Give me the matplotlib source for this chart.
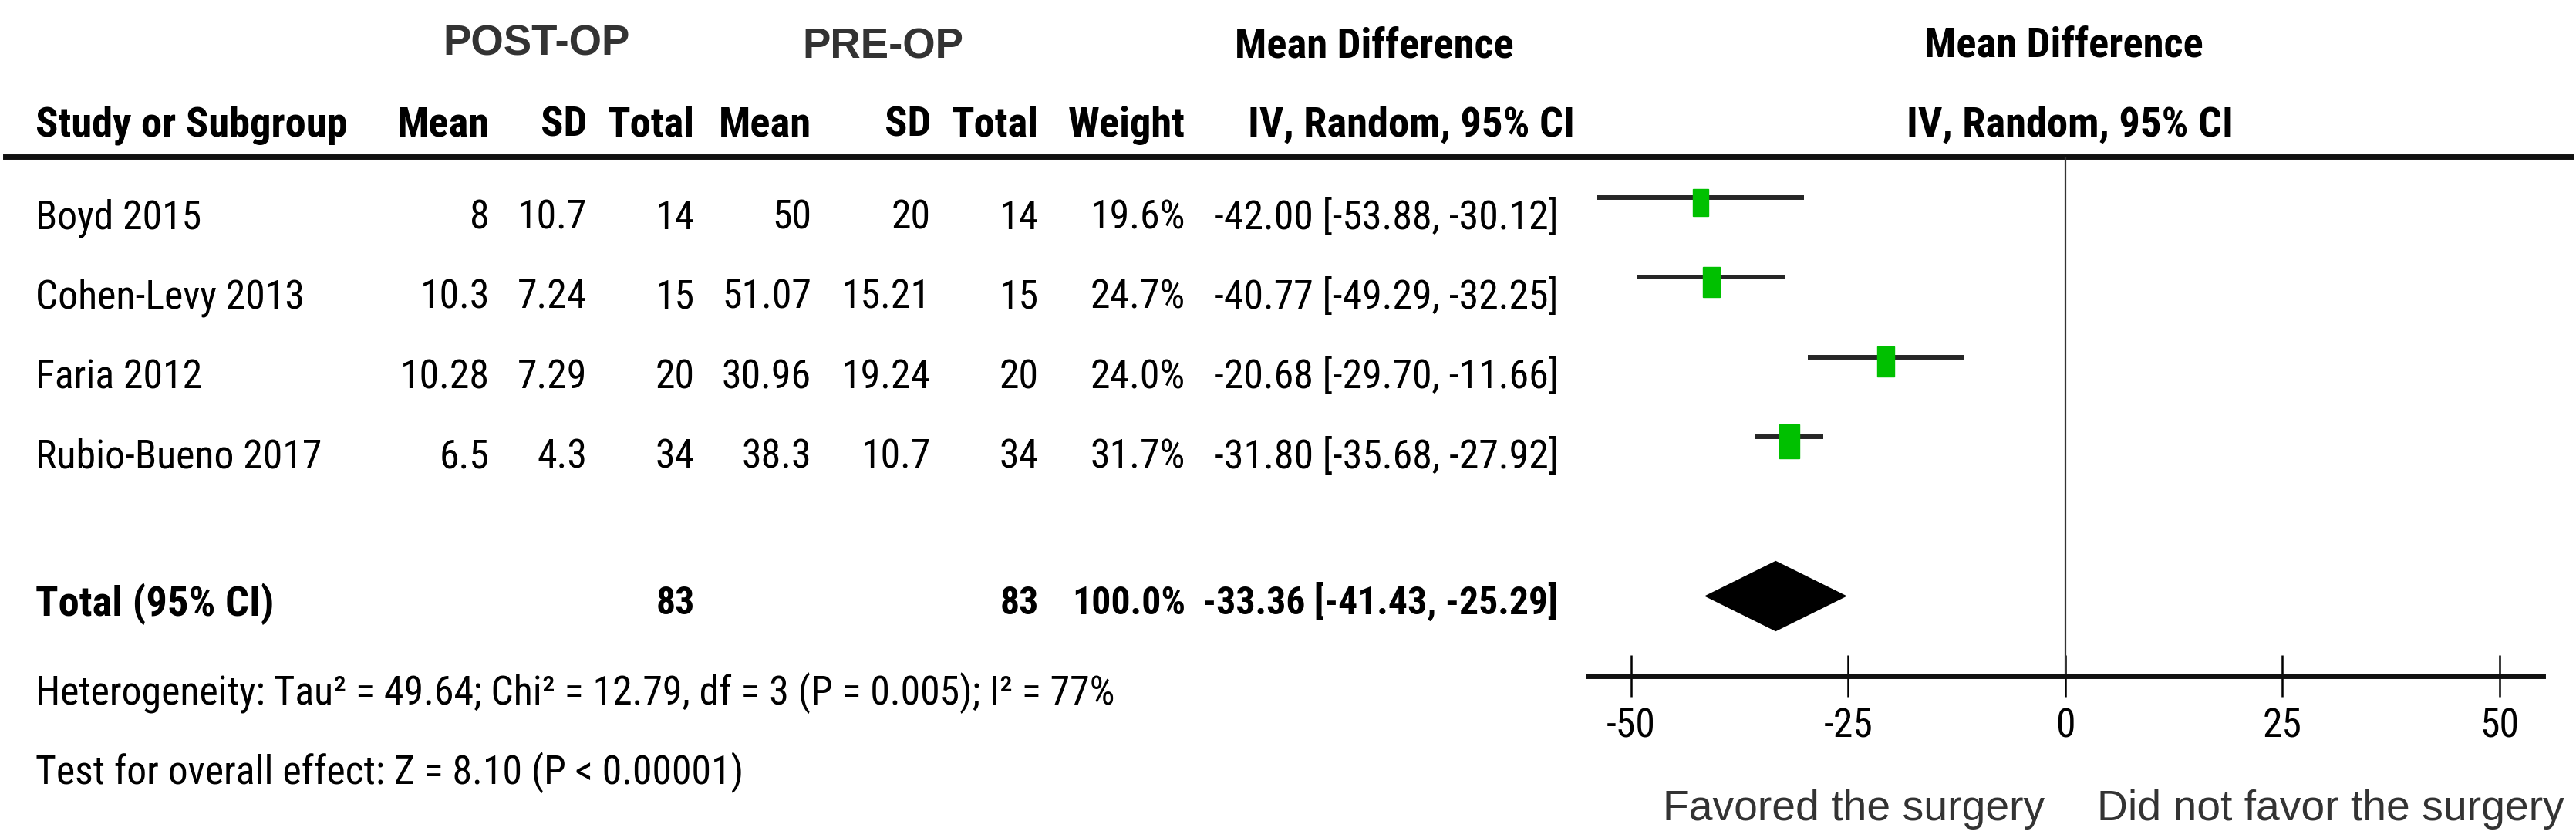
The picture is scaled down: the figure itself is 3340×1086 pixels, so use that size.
import matplotlib
matplotlib.use("Agg")
import matplotlib.pyplot as plt
from matplotlib import font_manager
from matplotlib.patches import Rectangle, Polygon
import numpy as np

# Datos del forest plot
estudios = ["Boyd 2015", "Cohen-Levy 2013", "Faria 2012", "Rubio-Bueno 2017"]
post_media = [8, 10.3, 10.28, 6.5]
post_sd = [10.7, 7.24, 7.29, 4.3]
post_n = [14, 15, 20, 34]
pre_media = [50, 51.07, 30.96, 38.3]
pre_sd = [20, 15.21, 19.24, 10.7]
pre_n = [14, 15, 20, 34]
peso = [19.6, 24.7, 24.0, 31.7]
dif_media = [-42.00, -40.77, -20.68, -31.80]
ic_inf = [-53.88, -49.29, -29.70, -35.68]
ic_sup = [-30.12, -32.25, -11.66, -27.92]

total_post = 83
total_pre = 83
total_peso = 100.0
total_dif = -33.36
total_inf = -41.43
total_sup = -25.29

heterogeneidad = "Heterogeneity: Tau² = 49.64; Chi² = 12.79, df = 3 (P = 0.005); I² = 77%"
efecto_global = "Test for overall effect: Z = 8.10 (P < 0.00001)"
marcas_x = [-50, -25, 0, 25, 50]

# Fuente estrecha si existe
disponibles = {f.name for f in font_manager.fontManager.ttflist}
estrecha = next((f for f in ["Liberation Sans Narrow", "Arial Narrow", "Roboto Condensed",
                             "Open Sans Condensed"] if f in disponibles), "Liberation Sans")
normal = "Liberation Sans" if "Liberation Sans" in disponibles else "DejaVu Sans"
plt.rcParams["font.family"] = [estrecha, "DejaVu Sans"]

W, H = 3341, 1086
fig = plt.figure(figsize=(W / 100, H / 100), dpi=100)
renderer = fig.canvas.get_renderer()


def ajustar(texto, ancho_px, **kw):
    t = fig.text(0, 0, texto, fontsize=40, **kw)
    w = t.get_window_extent(renderer).width
    t.remove()
    return 40 * ancho_px / w


texto_total = f"{total_dif:.2f} [{total_inf:.2f}, {total_sup:.2f}]"
tam_reg = ajustar(heterogeneidad, 1399)
tam_neg = ajustar("Study or Subgroup", 403, fontweight="bold")
tam_tot = ajustar(texto_total, 460, fontweight="bold")
tam_tit = ajustar("POST-OP", 242, fontweight="bold", family=normal)
tam_lab = ajustar("Favored the surgery", 494, family=normal)

# Capa de texto en pixeles
tx = fig.add_axes([0, 0, 1, 1])
tx.set_xlim(0, W)
tx.set_ylim(H, 0)
tx.axis("off")


def poner(x, yc, s, size, ha="left", **kw):
    tx.text(x, yc + 0.36 * size * 100 / 72, s, fontsize=size, ha=ha, va="baseline", **kw)


# Titulos
poner(696, 52, "POST-OP", tam_tit, ha="center", fontweight="bold", family=normal, color="#333333")
poner(1145, 56, "PRE-OP", tam_tit, ha="center", fontweight="bold", family=normal, color="#333333")
poner(1782, 55, "Mean Difference", tam_neg, ha="center", fontweight="bold")
poner(2676, 54, "Mean Difference", tam_neg, ha="center", fontweight="bold")

# Cabecera de columnas
cols = [635, 761, 901, 1052, 1207, 1347, 1537]
cab = ["Mean", "SD", "Total", "Mean", "SD", "Total", "Weight"]
poner(46, 157, "Study or Subgroup", tam_neg, fontweight="bold")
for x, c in zip(cols, cab):
    poner(x, 157, c, tam_neg, ha="right", fontweight="bold")
poner(2042, 157, "IV, Random, 95% CI", tam_neg, ha="right", fontweight="bold")
poner(2684, 157, "IV, Random, 95% CI", tam_neg, ha="center", fontweight="bold")
tx.axhline(203, xmin=0.002, xmax=0.998, color="#111111", lw=5)

# Filas de estudios
for i, nombre in enumerate(estudios):
    y = 278 + 103.3 * i
    valores = [f"{post_media[i]:g}", f"{post_sd[i]:g}", f"{post_n[i]}",
               f"{pre_media[i]:g}", f"{pre_sd[i]:g}", f"{pre_n[i]}", f"{peso[i]:.1f}%"]
    poner(46, y, nombre, tam_reg)
    for x, v in zip(cols, valores):
        poner(x, y, v, tam_reg, ha="right")
    poner(2021, y, f"{dif_media[i]:.2f} [{ic_inf[i]:.2f}, {ic_sup[i]:.2f}]", tam_reg, ha="right")

# Fila total
poner(46, 778, "Total (95% CI)", tam_neg, fontweight="bold")
poner(cols[2], 778, f"{total_post}", tam_tot, ha="right", fontweight="bold")
poner(cols[5], 778, f"{total_pre}", tam_tot, ha="right", fontweight="bold")
poner(cols[6], 778, f"{total_peso:.1f}%", tam_tot, ha="right", fontweight="bold")
poner(2020, 778, texto_total, tam_tot, ha="right", fontweight="bold")
poner(46, 894, heterogeneidad, tam_reg)
poner(46, 997, efecto_global, tam_reg)

# Etiquetas bajo el eje
poner(2404, 1043, "Favored the surgery", tam_lab, ha="center", family=normal, color="#333333")
poner(3022, 1043, "Did not favor the surgery", tam_lab, ha="center", family=normal, color="#333333")

# Forest plot
cero, ppu = 2678, 11.26          # pixel del cero y pixeles por unidad
fila0, paso = 256, 103.3         # pixel de la primera fila y separacion
xl = (-55, 55)
yl = (6, -0.5)
x0 = cero + xl[0] * ppu
x1 = cero + xl[1] * ppu
ytop = fila0 + yl[1] * paso
ybot = fila0 + yl[0] * paso
ax = fig.add_axes([x0 / W, 1 - ybot / H, (x1 - x0) / W, (ybot - ytop) / H])
ax.set_xlim(*xl)
ax.set_ylim(*yl)
ax.set_facecolor("none")

filas = np.arange(len(estudios))
ax.hlines(filas, ic_inf, ic_sup, color="#262626", lw=4.3)
for i in filas:
    h_px = 7.9 * np.sqrt(peso[i])
    w_px = 0.58 * h_px
    ax.add_patch(Rectangle((dif_media[i] - w_px / ppu / 2, i + 0.06 - h_px / paso / 2),
                           w_px / ppu, h_px / paso, color="#00C000", zorder=3))

fila_total = 5
media_alto = 0.435
ax.add_patch(Polygon([(total_inf, fila_total), (total_dif, fila_total - media_alto),
                      (total_sup, fila_total), (total_dif, fila_total + media_alto)],
                     closed=True, color="black", zorder=3))
ax.axvline(0, color="#333333", lw=1.6)

for s in ["left", "right", "top"]:
    ax.spines[s].set_visible(False)
ax.spines["bottom"].set_linewidth(5)
ax.spines["bottom"].set_color("#111111")
ax.set_yticks([])
ax.set_xticks(marcas_x)
ax.set_xticklabels([f"{m:g}" for m in marcas_x])
ax.tick_params(axis="x", direction="inout", length=39, width=1.8, pad=10,
               labelsize=tam_reg, colors="black")

fig.savefig("out.png", dpi=100)
